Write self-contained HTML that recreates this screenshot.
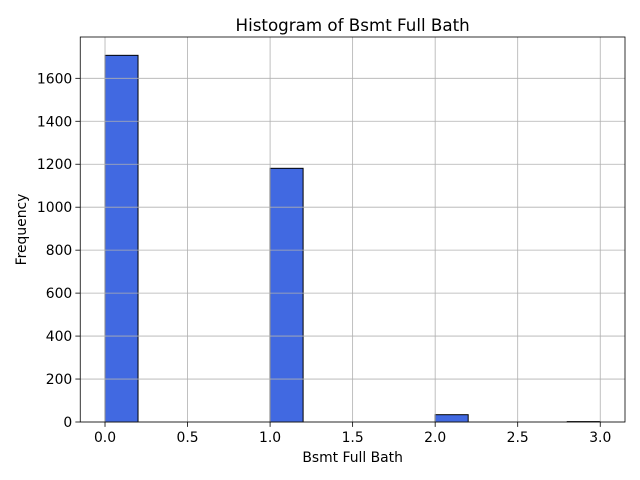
<!DOCTYPE html>
<html><head><meta charset="utf-8"><style>body{margin:0;background:#fff}svg{display:block;font-family:"DejaVu Sans","Liberation Sans",sans-serif}</style></head>
<body>
<svg id="c" width="640" height="480" viewBox="0 0 640 480"></svg>
<script>
const binEdges=[0,0.2,0.4,0.6,0.8,1.0,1.2,1.4,1.6,1.8,2.0,2.2,2.4,2.6,2.8,3.0];
const counts=[1707,0,0,0,0,1181,0,0,0,0,34,0,0,0,2];
const xTicks=[0,0.5,1.0,1.5,2.0,2.5,3.0];
const xTickLabels=["0.0","0.5","1.0","1.5","2.0","2.5","3.0"];
const yTicks=[0,200,400,600,800,1000,1200,1400,1600];
const L=80.25,R=625,T=37,B=422;
const xmin=-0.15,xmax=3.15,ymax=Math.max(...counts)*1.05;
const sx=v=>L+(v-xmin)/(xmax-xmin)*(R-L);
const sy=v=>B-v/ymax*(B-T);
const svg=document.getElementById('c');const NS='http://www.w3.org/2000/svg';
function mk(t,a,p){const e=document.createElementNS(NS,t);for(const k in a)e.setAttribute(k,a[k]);(p||svg).appendChild(e);return e;}
const bars=mk('g',{});


counts.forEach((c,i)=>{const x0=sx(binEdges[i]),x1=sx(binEdges[i+1]);
const r=mk('rect',{x:x0,y:sy(c),width:x1-x0,height:B-sy(c),fill:'#4169e1',stroke:'#000','stroke-width':1},bars);

});
const grid=mk('g',{stroke:'#b0b0b0','stroke-width':0.8});


xTicks.forEach(v=>mk('line',{x1:sx(v),x2:sx(v),y1:T,y2:B},grid));
yTicks.forEach(v=>mk('line',{x1:L,x2:R,y1:sy(v),y2:sy(v)},grid));
const ax=mk('rect',{x:L,y:T,width:R-L,height:B-T,fill:'none',stroke:'#000','stroke-width':0.8});


xTicks.forEach((v,i)=>{mk('line',{x1:sx(v),x2:sx(v),y1:B,y2:B+4.9,stroke:'#000','stroke-width':0.8});
const t=mk('text',{x:sx(v),y:B+20,'font-size':13.9,'text-anchor':'middle'});t.textContent=xTickLabels[i];

});
yTicks.forEach(v=>{mk('line',{x1:L-4.9,x2:L,y1:sy(v),y2:sy(v),stroke:'#000','stroke-width':0.8});
const t=mk('text',{x:L-8,y:sy(v)+5,'font-size':13.9,'text-anchor':'end'});t.textContent=v;

});
let t=mk('text',{x:(L+R)/2,y:31,'font-size':16.7,'text-anchor':'middle'});t.textContent='Histogram of Bsmt Full Bath';


t=mk('text',{x:(L+R)/2,y:462,'font-size':13.9,'text-anchor':'middle'});t.textContent='Bsmt Full Bath';


t=mk('text',{x:26,y:(T+B)/2,'font-size':13.9,'text-anchor':'middle',transform:'rotate(-90 26 '+((T+B)/2)+')'});t.textContent='Frequency';


</script>
</body></html>
